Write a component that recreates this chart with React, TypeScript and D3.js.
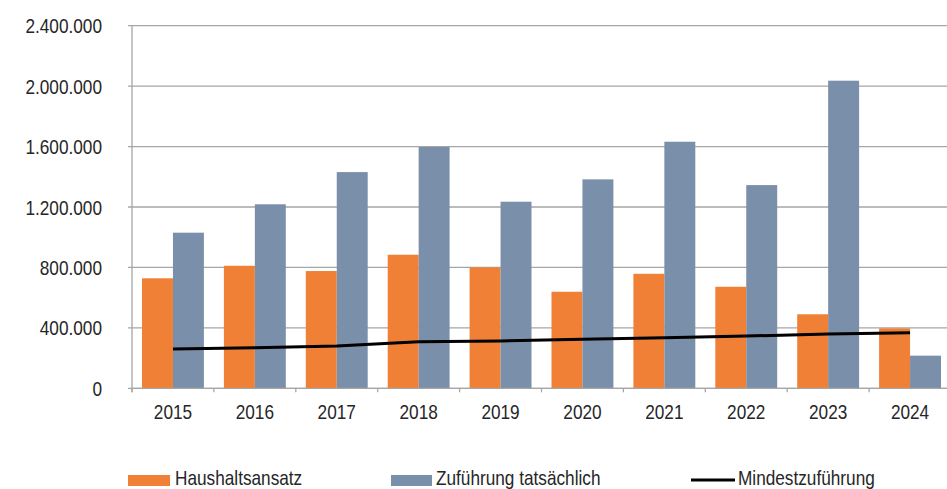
import React from "react";
import * as d3 from "d3";

const years = ["2015","2016","2017","2018","2019","2020","2021","2022","2023","2024"];
const haushaltsansatz = [728000, 811000, 776000, 884000, 800000, 639000, 758000, 672000, 490000, 397000];
const zufuehrungTatsaechlich = [1030000, 1218000, 1431000, 1597000, 1235000, 1383000, 1632000, 1345000, 2036000, 216000];
const mindestzufuehrung = [260000, 269000, 280000, 308000, 313000, 324000, 335000, 346000, 359000, 368000];
const yTicks = [0, 400000, 800000, 1200000, 1600000, 2000000, 2400000];
const seriesNames = ["Haushaltsansatz", "Zuführung tatsächlich", "Mindestzuführung"];

const W = 947, H = 489;
const FONT = "'Liberation Sans', Arial, sans-serif";
const ORANGE = "#F08035";
const BLUE = "#7A8FA9";
const GRID = "#A6A6A6";
const NARROW = 0.82;

function NText(props: { x: number; y: number; size: number; anchor?: string; dy?: string; children: React.ReactNode }) {
  const { x, y, size, anchor, dy, children } = props;
  return (
    <text transform={`translate(${x},${y}) scale(${NARROW},1)`} dy={dy} textAnchor={anchor || "start"}
      fontSize={size} fill="#262626">
      {children}
    </text>
  );
}

export default function App() {
  const x = d3.scaleBand<string>().domain(years).range([132, 951]).padding(0);
  const step = x.step();
  const sub = d3.scaleBand<string>().domain(["h", "z"]).range([10, step - 10]).padding(0);
  const y = d3.scaleLinear().domain([0, 2400000]).range([388.3, 25.7]);
  const fmt = (v: number) => d3.format(",")(v).replace(/,/g, ".");
  const line = d3.line<number>()
    .x((_, i) => (x(years[i]) as number) + step / 2)
    .y((d) => y(d));

  return (
    <svg width={W} height={H} style={{ position: "absolute", left: 0, top: 0, background: "#fff" }}
      fontFamily={FONT}>
      <rect x={0} y={0} width={W} height={H} fill="#fff" />
      {yTicks.map((t) => (
        <line key={"g" + t} x1={128} x2={W} y1={y(t)} y2={y(t)} stroke={GRID} strokeWidth={1.3} />
      ))}
      <line x1={132} x2={132} y1={y(2400000)} y2={y(0) + 4} stroke={GRID} strokeWidth={1.3} />
      {yTicks.map((t) => (
        <NText key={"yl" + t} x={102} y={y(t)} dy="0.36em" anchor="end" size={21}>
          {fmt(t)}
        </NText>
      ))}
      {years.map((yr, i) => (
        <g key={"b" + yr}>
          <rect x={(x(yr) as number) + (sub("h") as number)} y={y(haushaltsansatz[i])}
            width={sub.bandwidth()} height={y(0) - y(haushaltsansatz[i])} fill={ORANGE} />
          <rect x={(x(yr) as number) + (sub("z") as number)} y={y(zufuehrungTatsaechlich[i])}
            width={sub.bandwidth()} height={y(0) - y(zufuehrungTatsaechlich[i])} fill={BLUE} />
        </g>
      ))}
      <line x1={132} x2={W} y1={y(0)} y2={y(0)} stroke={GRID} strokeWidth={1.3} />
      {years.map((yr) => (
        <line key={"xt" + yr} x1={x(yr) as number} x2={x(yr) as number} y1={y(0)} y2={y(0) + 4}
          stroke={GRID} strokeWidth={1.3} />
      ))}
      {years.map((yr) => (
        <NText key={"xl" + yr} x={(x(yr) as number) + step / 2} y={419} anchor="middle" size={21}>
          {yr}
        </NText>
      ))}
      <path d={line(mindestzufuehrung) as string} fill="none" stroke="#000" strokeWidth={3} />
      <rect x={128} y={475} width={42} height={11} fill={ORANGE} />
      <NText x={175} y={484.5} size={21}>{seriesNames[0]}</NText>
      <rect x={391} y={475} width={41} height={11} fill={BLUE} />
      <NText x={436} y={484.5} size={21}>{seriesNames[1]}</NText>
      <line x1={691} x2={735} y1={480} y2={480} stroke="#000" strokeWidth={3} />
      <NText x={738} y={484.5} size={21}>{seriesNames[2]}</NText>
    </svg>
  );
}
